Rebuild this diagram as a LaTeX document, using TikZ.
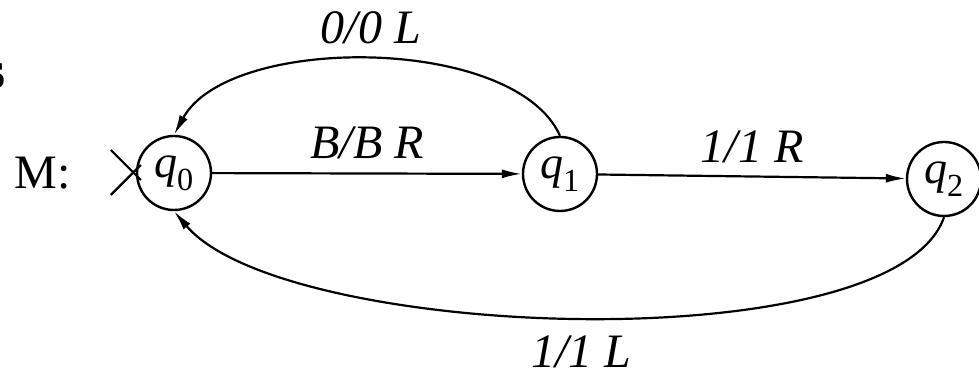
\documentclass[tikz,border=0pt]{standalone}
\usepackage{fontspec}
\setmainfont{Liberation Serif}
\usetikzlibrary{arrows.meta}
\tikzset{state/.style={draw,circle,line width=2.4pt,minimum size=74pt,inner sep=0pt,font=\fontsize{46}{50}\selectfont},
lbl/.style={inner sep=0pt,font=\fontsize{48}{52}\selectfont\itshape}}
\begin{document}
\begin{tikzpicture}[x=1pt,y=1pt,line width=2.2pt,>={Latex[length=20pt,width=9pt]}]
\useasboundingbox(0,0) rectangle (979,382);
\node[anchor=east,font=\fontsize{54}{58}\selectfont\bfseries] (frag) at (10,306){s};
\node[font=\fontsize{48}{52}\selectfont] (mlabel) at (43,209){M:};

\node[state] (q0) at (174,209){\textit{q}\textsubscript{0}};
\node[state] (q1) at (560,208){\textit{q}\textsubscript{1}};
\node[state] (q2) at (944,203){\textit{q}\textsubscript{2}};

% start marker
\draw([shift={(-25,23)}]q0.west)--([shift={(5,-7)}]q0.west);
\draw([shift={(-25,-22)}]q0.west)--([shift={(5,8)}]q0.west);

\draw[->](q0)--node[lbl,above=13pt]{B/B R}(q1);
\draw[->](q1)--node[lbl,above=12pt]{1/1 R}(q2);
\draw[->](q1.north) .. controls +(-45,101) and +(55,101) .. node[lbl,above=14pt]{0/0 L}(q0.north);
\draw[->](q2.south) .. controls +(-50,-145) and +(110,-130) .. node[lbl,below=17pt]{1/1 L}(q0.south);
\end{tikzpicture}
\end{document}
